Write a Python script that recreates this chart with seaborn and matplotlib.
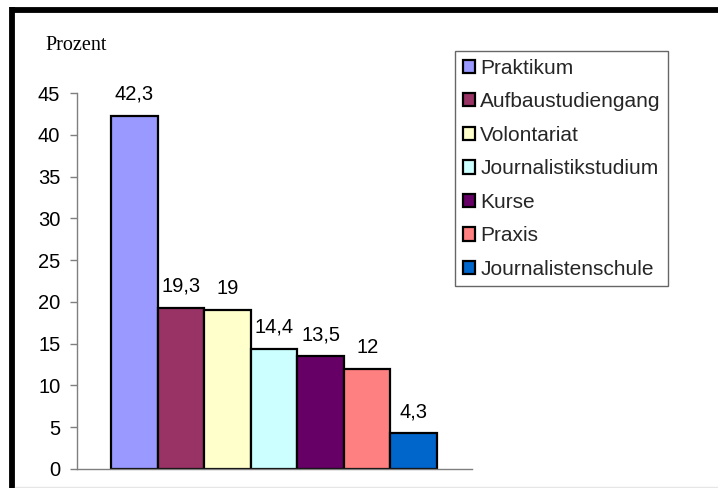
import matplotlib
matplotlib.use("Agg")
import matplotlib.pyplot as plt
from matplotlib.lines import Line2D
from matplotlib.patches import Patch
import seaborn as sns
import pandas as pd

# Ausbildungswege (Anteile in Prozent)
categories = ["Praktikum", "Aufbaustudiengang", "Volontariat", "Journalistikstudium",
              "Kurse", "Praxis", "Journalistenschule"]
values = [42.3, 19.3, 19.0, 14.4, 13.5, 12.0, 4.3]
colors = ["#9999FF", "#993366", "#FFFFCC", "#CCFFFF", "#660066", "#FF8080", "#0066CC"]
yticks = [0, 5, 10, 15, 20, 25, 30, 35, 40, 45]

sns.set_theme(style="white")
plt.rcParams["font.family"] = ["Liberation Sans", "DejaVu Sans"]

W, H = 718, 488
fig = plt.figure(figsize=(W / 100, H / 100), dpi=100)
ax = fig.add_axes([77 / W, 1 - 469 / H, 395 / W, 376 / H])

df = pd.DataFrame({"Kategorie": categories, "Prozent": values})
sns.barplot(data=df, x="Kategorie", y="Prozent", hue="Kategorie",
            palette=colors, hue_order=categories, order=categories,
            width=1.0, dodge=False, edgecolor="black", linewidth=1.6,
            saturation=1.0, legend=False, ax=ax)

ax.set_xlim(-1.23, 7.25)
ax.set_ylim(0, 45)
ax.set_yticks(yticks)
ax.set_yticklabels([str(t) for t in yticks], fontsize=14.5)
ax.set_xticks([])
ax.set_xlabel("")
ax.set_ylabel("")

for s in ["top", "right"]:
    ax.spines[s].set_visible(False)
for s in ["left", "bottom"]:
    ax.spines[s].set_color("#7f7f7f")
    ax.spines[s].set_linewidth(1.0)
ax.tick_params(axis="y", left=True, length=5, width=1.0, color="#7f7f7f",
               pad=7, labelcolor="black")

# Werte über den Balken
for cont in ax.containers:
    labels = [f"{b.get_height():g}".replace(".", ",") for b in cont]
    ax.bar_label(cont, labels=labels, padding=8.5, fontsize=14.5, color="black")

fig.text(45.7 / W, 1 - 50 / H, "Prozent", family=["Liberation Serif", "DejaVu Serif"],
         fontsize=14.5, va="baseline", ha="left", color="black")

handles = [Patch(facecolor=c, edgecolor="black", linewidth=1.6) for c in colors]
leg = fig.legend(handles, categories, loc="upper left",
                 bbox_to_anchor=(455 / W, 1 - 51 / H), bbox_transform=fig.transFigure,
                 borderaxespad=0, fontsize=15, frameon=True, fancybox=False,
                 handlelength=0.6, handleheight=0.6, handletextpad=0.25,
                 labelspacing=0.7, borderpad=0.36)
leg.get_frame().set_edgecolor("#404040")
leg.get_frame().set_linewidth(1.0)

# Rahmen der Grafik
fig.add_artist(Line2D([10 / W, 1], [1 - 9.5 / H, 1 - 9.5 / H], color="black",
                      linewidth=4.2, transform=fig.transFigure, solid_capstyle="butt"))
fig.add_artist(Line2D([12.2 / W, 12.2 / W], [0, 1 - 7 / H], color="black",
                      linewidth=4.2, transform=fig.transFigure, solid_capstyle="butt"))
fig.add_artist(Line2D([15 / W, 1], [1 - 486.5 / H, 1 - 486.5 / H], color="#e6e6e6",
                      linewidth=1.0, transform=fig.transFigure))

fig.savefig("out.png", dpi=100, facecolor="white")
